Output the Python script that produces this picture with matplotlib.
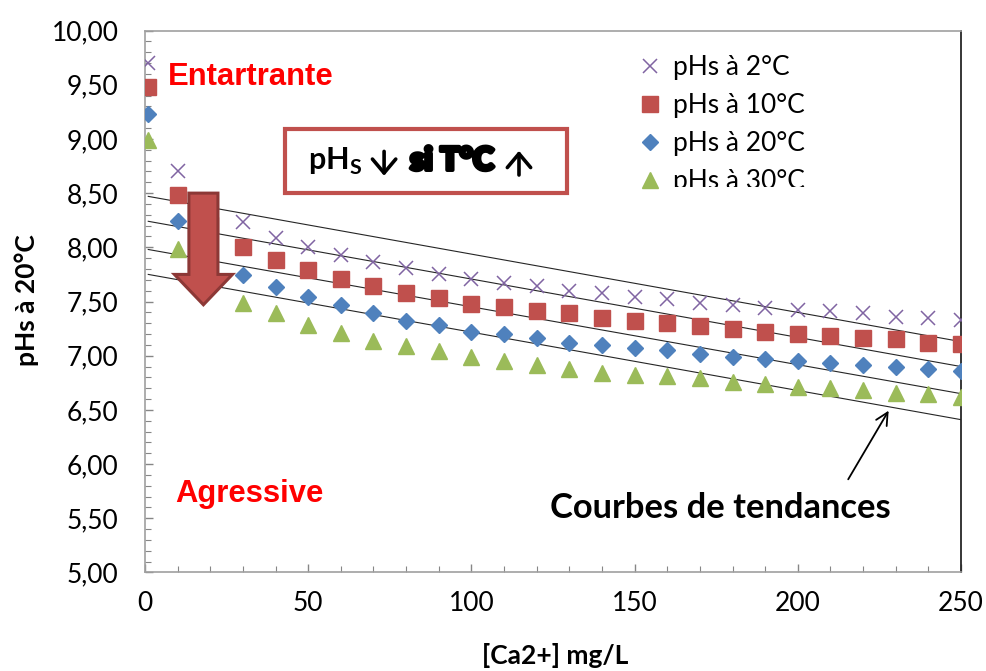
import matplotlib
matplotlib.use("Agg")
import matplotlib.pyplot as plt
from matplotlib.patches import FancyArrow, Rectangle
from matplotlib.ticker import MultipleLocator, FuncFormatter
import matplotlib.patheffects as pe

plt.rcParams['font.family'] = ['Lato', 'DejaVu Sans']

# [Ca2+] in mg/L
ca = [1, 10, 20, 30, 40, 50, 60, 70, 80, 90, 100, 110, 120, 130, 140, 150,
      160, 170, 180, 190, 200, 210, 220, 230, 240, 250]

# pHs for each temperature
ph_2 = [9.70, 8.70, 8.43, 8.23, 8.09, 8.00, 7.93, 7.86, 7.81, 7.75, 7.71, 7.67, 7.64,
        7.60, 7.58, 7.54, 7.52, 7.49, 7.47, 7.44, 7.42, 7.41, 7.39, 7.36, 7.35, 7.33]
ph_10 = [9.48, 8.48, 8.21, 8.00, 7.88, 7.79, 7.71, 7.64, 7.58, 7.53, 7.48, 7.45, 7.41,
         7.39, 7.35, 7.32, 7.30, 7.27, 7.25, 7.22, 7.20, 7.18, 7.16, 7.15, 7.12, 7.11]
ph_20 = [9.23, 8.24, 7.95, 7.74, 7.63, 7.54, 7.47, 7.39, 7.32, 7.28, 7.22, 7.20, 7.16,
         7.12, 7.10, 7.07, 7.05, 7.02, 6.99, 6.97, 6.95, 6.93, 6.91, 6.90, 6.88, 6.86]
ph_30 = [8.99, 7.98, 7.70, 7.49, 7.39, 7.28, 7.21, 7.14, 7.09, 7.04, 6.99, 6.95, 6.91,
         6.88, 6.84, 6.82, 6.81, 6.79, 6.76, 6.74, 6.71, 6.70, 6.68, 6.66, 6.65, 6.62]

labels = ['pHs à 2°C', 'pHs à 10°C', 'pHs à 20°C', 'pHs à 30°C']

# linear trend lines (value at first and last concentration)
trend_x = [1, 250]
trend_start = [8.47, 8.24, 7.98, 7.75]
trend_end = [7.13, 6.90, 6.65, 6.41]

fig = plt.figure(figsize=(9.87, 6.71), dpi=100)
ax = fig.add_axes([0.1469, 0.1468, 0.8268, 0.8077])

# trend lines
for a, b in zip(trend_start, trend_end):
    ax.plot(trend_x, [a, b], color='#262626', lw=0.8, zorder=2)

# series
ax.plot(ca, ph_2, ls='none', marker='x', ms=9.5, mew=1.1, color='#8064A2',
        label=labels[0], zorder=3)
ax.plot(ca, ph_10, ls='none', marker='s', ms=11, color='#C0504D', mec='#C0504D',
        label=labels[1], zorder=3)
ax.plot(ca, ph_20, ls='none', marker='D', ms=8.5, color='#4F81BD', mec='#4F81BD',
        label=labels[2], zorder=3)
ax.plot(ca, ph_30, ls='none', marker='^', ms=11, color='#9BBB59', mec='#9BBB59',
        label=labels[3], zorder=3)

ax.set_xlim(0, 250)
ax.set_ylim(5, 10)

ax.xaxis.set_major_locator(MultipleLocator(50))
ax.xaxis.set_minor_locator(MultipleLocator(10))
ax.yaxis.set_major_locator(MultipleLocator(0.5))
ax.yaxis.set_minor_locator(MultipleLocator(0.1))
ax.yaxis.set_major_formatter(FuncFormatter(lambda v, _: f"{v:.2f}".replace('.', ',')))

ax.tick_params(which='both', direction='in', color='#868686', labelsize=19,
               right=False, top=False)
ax.tick_params(which='major', length=6, width=1)
ax.tick_params(which='minor', length=4.5, width=0.8)
ax.tick_params(axis='y', pad=19)
ax.tick_params(axis='x', pad=13)

for side in ['left', 'top', 'bottom']:
    ax.spines[side].set_color('#A0A0A0')
    ax.spines[side].set_linewidth(1.2)
ax.spines['right'].set_color('#262626')
ax.spines['right'].set_linewidth(1.3)

# axis titles
fig.text(27 / 987, 1 - 300 / 671, 'pHs à 20°C', rotation=90, ha='center',
         va='center', fontsize=19, fontweight='bold')
fig.text(555 / 987, 1 - 655 / 671, '[Ca2+] mg/L', ha='center', va='center',
         fontsize=19, fontweight='bold')

# legend
leg = ax.legend(loc='upper left', bbox_to_anchor=(637 / 987, 1 - 55 / 671),
                bbox_transform=fig.transFigure, frameon=False, fontsize=19,
                borderpad=0, borderaxespad=0, handlelength=1.0,
                handletextpad=0.35, labelspacing=0.49)
leg.set_zorder(6)
# bottom of the last legend entry is cut off in the original
fig.patches.append(Rectangle((665 / 987, 1 - 197 / 671), 160 / 987, 10 / 671,
                             transform=fig.transFigure, facecolor='white',
                             edgecolor='none', zorder=10))

# zone labels
ax.text(0.0282, 0.8995, 'Entartrante', transform=ax.transAxes, color='#FF0000',
        fontsize=22.3, fontweight='bold', family='Liberation Sans', va='baseline')
ax.text(0.0368, 0.130, 'Agressive', transform=ax.transAxes, color='#FF0000',
        fontsize=22.3, fontweight='bold', family='Liberation Sans', va='baseline')

# big red arrow
ax.add_patch(FancyArrow(17.9, 8.50, 0, -1.03, width=8.9, head_width=17.8,
                        head_length=0.28, length_includes_head=True,
                        facecolor='#C0504D', edgecolor='#8C3836', lw=2.2, zorder=5))

# framed message
ax.add_patch(Rectangle((0.1716, 0.6996), 0.3452, 0.1181, transform=ax.transAxes,
                       facecolor='white', edgecolor='#C0504D', lw=3, zorder=6))
ax.text(0.1998, 0.7426, r'pH$_\mathregular{S}$', transform=ax.transAxes,
        fontsize=22, fontweight='bold', va='baseline', zorder=7)
ax.text(0.3248, 0.7426, 'si T°C', transform=ax.transAxes, fontsize=23,
        fontweight='heavy', va='baseline', zorder=7,
        path_effects=[pe.withStroke(linewidth=2.8, foreground='black')])
chevron = dict(arrowstyle='->,head_length=0.5,head_width=0.42', color='black',
               lw=2.6, mutation_scale=20, shrinkA=0, shrinkB=0)
ax.annotate('', xy=(0.2930, 0.7320), xytext=(0.2930, 0.7770),
            xycoords='axes fraction', textcoords='axes fraction',
            arrowprops=chevron, zorder=7)
ax.annotate('', xy=(0.4583, 0.7780), xytext=(0.4583, 0.7334),
            xycoords='axes fraction', textcoords='axes fraction',
            arrowprops=chevron, zorder=7)

# trend line callout
ax.annotate('', xy=(0.913, 0.303), xytext=(0.860, 0.1675),
            xycoords='axes fraction', textcoords='axes fraction',
            arrowprops=dict(arrowstyle='->', color='black', lw=1.3,
                            mutation_scale=22))
fig.text(550 / 987, 1 - 518 / 671, 'Courbes de tendances', fontsize=24.8,
         fontweight='bold', va='baseline')

fig.savefig('out.png', dpi=100, facecolor='white')
